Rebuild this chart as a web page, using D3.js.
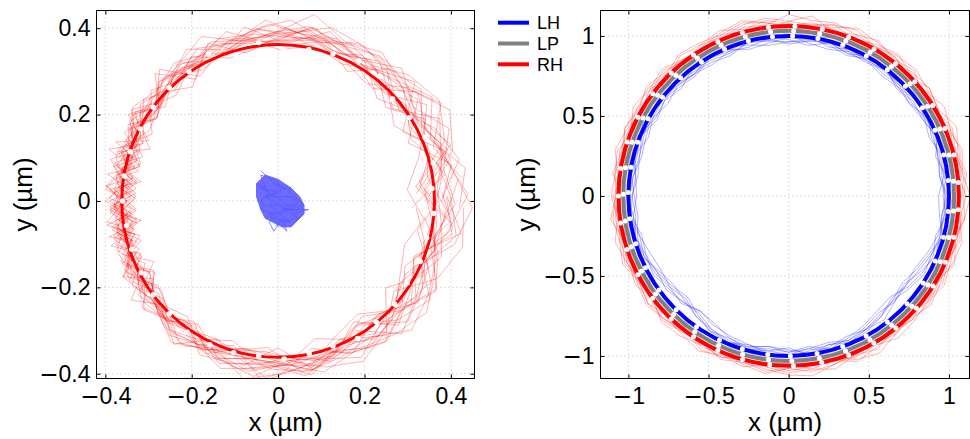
<!DOCTYPE html>
<html>
<head>
<meta charset="utf-8">
<script src="https://cdn.jsdelivr.net/npm/d3@7"></script>
<style>
  body { margin: 0; background: #fff; }
  svg text { font-family: "Liberation Sans", Arial, sans-serif; }
</style>
</head>
<body>
<svg id="vis" width="970" height="439"></svg>
<script>
// ---- left panel data (um) ----
var leftTicks = [-0.4, -0.2, 0, 0.2, 0.4];
var leftRadius = 0.362;
// white markers on the mean RH orbit
var leftDots = [[-0.045,0.367],[0.013,0.350],[0.071,0.351],[0.127,0.341],[0.187,0.324],[0.236,0.289],
  [0.265,0.236],[0.304,0.193],[0.340,0.147],[0.359,0.088],[0.356,0.029],[0.360,-0.029],[0.344,-0.085],
  [0.329,-0.140],[0.299,-0.190],[0.270,-0.239],[0.228,-0.281],[0.184,-0.318],[0.127,-0.336],[0.072,-0.353],
  [0.014,-0.366],[-0.045,-0.359],[-0.103,-0.351],[-0.158,-0.333],[-0.210,-0.304],[-0.252,-0.261],
  [-0.289,-0.217],[-0.317,-0.166],[-0.339,-0.112],[-0.351,-0.057],[-0.360,0.000],[-0.356,0.058],
  [-0.342,0.114],[-0.319,0.167],[-0.289,0.217],[-0.252,0.262],[-0.206,0.299],[-0.161,0.340],[-0.098,0.338]];
// RH trajectories: angle samples (deg) and radial offsets from 0.36 um (in 0.01 um)
var leftAngles = [0,12,24,36,48,60,72,84,96,108,120,130,140,148,155,161,166,170,174,178,
  182,186,190,194,199,205,212,220,230,240,252,264,276,288,300,312,324,336,348,360];
var leftShift = [0,3,-2,5,-4,1,4,-3,2,-5,6,-1,-6,2,7,-3,1,-7,5,-2];
var leftTraces = [
  [2,5,-3,4,1,3,0,2,4,1,-1,2,-2,3,-1,2,-3,1,0,-2,3,-1,2,-3,1,0,2,-1,3,1,-2,2,0,3,1,-1,4,2,-3,1],
  [-4,3,6,-2,4,5,2,4,1,3,2,-1,3,0,2,-2,1,-3,2,0,-1,3,-2,1,-2,3,0,2,-1,4,3,2,5,1,-2,3,6,-1,5,2],
  [6,8,2,7,3,1,4,3,6,2,4,1,0,-2,3,1,-1,2,-2,1,4,0,-3,2,0,-1,3,1,2,0,4,2,1,4,6,3,-2,5,8,7],
  [-6,-2,3,-3,2,-1,1,-1,2,4,1,3,-1,2,0,-3,2,1,-2,3,-1,2,0,-2,3,1,-2,0,1,3,-1,0,3,-2,-4,1,-3,-5,-2,-6],
  [1,-3,5,8,6,2,3,5,3,1,0,2,1,-1,-2,0,3,-1,1,-2,0,2,-1,3,-1,2,1,3,2,-1,2,4,2,0,3,5,2,4,-1,1],
  [4,2,-2,1,-1,2,5,1,0,-1,3,0,2,1,-1,2,0,-2,1,3,-2,1,2,-1,0,2,-1,1,4,2,0,-1,1,2,-2,0,3,1,6,4],
  [-2,6,9,4,5,4,2,0,2,0,1,-2,1,-3,1,-1,2,0,-3,-1,2,-2,1,-1,2,-3,0,1,-1,2,1,3,4,3,2,7,5,3,0,-2],
  [3,-1,1,-4,0,3,1,3,5,3,2,4,2,1,3,-1,1,2,-1,1,-3,0,1,-2,2,0,1,2,0,1,3,1,2,5,3,-1,1,-3,2,3],
  [8,4,2,5,-2,1,3,2,3,4,1,1,-1,0,-2,2,-1,1,2,-1,1,-2,3,0,1,-1,2,0,3,2,1,5,3,1,4,2,-2,1,4,8],
  [0,2,4,1,3,6,4,8,3,2,0,3,1,-1,1,3,-2,0,1,2,-1,1,-2,2,-1,1,3,-2,0,4,2,1,0,2,1,3,1,0,2,0],
  [-3,1,-1,3,2,0,2,1,0,1,3,0,-2,2,-1,0,1,-2,3,0,-2,2,0,1,-2,1,-1,2,0,-1,1,2,3,-1,2,0,-2,2,1,-3],
  [5,3,7,2,6,2,3,2,1,5,2,0,3,-1,2,-1,-3,1,-1,1,2,-2,0,-1,3,2,0,4,1,2,5,3,2,1,3,5,7,4,1,5],
  [3,-4,6,2,-1,4,1,5,2,-1,4,-2,5,-1,3,-3,4,-2,1,-4,3,0,-3,4,-2,2,-4,3,1,5,-1,3,-2,4,1,-3,2,6,3,-2],
  [-1,5,1,6,4,-2,3,6,4,2,-2,5,0,4,-2,5,-3,2,4,-1,2,-4,4,-2,3,-1,5,0,-2,3,0,-2,4,2,-3,4,1,-2,7,3],
  [7,2,8,3,5,3,5,1,2,6,3,2,4,2,-3,3,0,-3,2,1,-3,3,1,-2,4,-2,1,3,4,1,6,4,-1,3,5,2,6,1,3,6],
  [-5,3,0,5,-1,1,2,4,1,0,2,-3,1,3,0,-4,3,-1,2,4,0,-3,2,1,-3,3,-2,0,2,-2,3,1,2,-3,0,4,-4,2,-1,-4],
  [2,7,4,-1,3,5,6,3,4,1,5,2,-1,3,1,2,-2,4,-1,0,1,4,-2,3,-1,4,2,1,3,2,-1,6,3,2,-1,6,3,-2,5,3],
  [4,-2,5,1,4,-2,0,2,3,2,0,1,3,0,4,1,2,-1,3,-2,4,1,2,-3,1,0,3,-1,2,5,2,-1,1,4,2,-1,5,3,-1,4],
  [1,4,-3,6,2,4,3,1,5,0,2,3,-2,1,-2,4,1,-3,0,3,1,-1,4,0,2,-3,1,2,-2,3,4,2,5,0,3,2,0,4,2,1],
  [9,5,3,1,-3,2,1,4,2,3,1,2,0,2,1,-1,3,2,-3,2,-1,3,-1,1,3,0,-2,4,1,0,3,5,1,2,5,1,3,-1,6,9]
];
// LH cluster near the origin (0.01 um)
var blueCore = [[-5,4],[-3,6],[0,5],[3,3],[5,1],[6,-1],[6,-3],[5,-4],[3,-6],[1,-6],[-1,-5],[-3,-4],[-4,-2],[-5,1]];
var blueTrace = [[-4,7],[-1,4],[2,3],[-3,1],[4,1],[6,-1],[1,-2],[7,-2],[3,-3],[5,-4],[0,-5],[2,-7],[1,-4],
  [-1,-7],[-2,-5],[-1,-3],[-4,-2],[-3,-1],[-4,0],[-2,2],[-5,4],[-3,3],[-4,6],[-1,5],[1,3],[3,3],[2,1],
  [5,0],[4,-1],[-2,-1],[3,-5],[-1,-4],[2,-2],[-3,1],[0,2],[-4,3],[1,0],[4,-2],[-2,-3],[0,-6]];

// ---- right panel data (um) ----
var rightTicks = [-1, -0.5, 0, 0.5, 1];
var seriesNames = ["LH", "LP", "RH"];
var seriesColors = {LH: "#0000ff", LP: "#808080", RH: "#ff0000"};
var seriesRadius = {LH: 1.0, LP: 1.032, RH: 1.062};
var traceBase = {LH: 1.005, LP: 1.025, RH: 1.05};
var traceUnit = 0.014;
var rightAngles = d3.range(0, 360, 7.5);
var rhTraces = [
  [2,4,1,3,5,2,0,3,4,6,3,1,2,4,2,5,3,1,4,2,0,3,5,2,1,3,2,4,1,0,2,3,5,2,4,1,3,2,0,4,6,3,1,2,4,2,3,1],
  [4,1,3,6,2,4,3,1,2,3,5,4,6,2,3,1,0,2,3,5,2,4,1,3,4,2,0,1,3,5,3,2,1,4,2,3,5,6,3,2,1,3,2,5,3,1,4,2],
  [0,3,5,2,1,0,4,2,5,3,1,6,3,5,4,2,3,4,1,3,5,1,2,4,0,1,3,5,2,4,1,0,3,1,2,4,2,0,1,3,2,5,4,3,1,5,2,3],
  [6,3,2,4,1,3,5,4,2,0,2,3,1,3,6,4,2,0,2,4,3,2,3,1,2,4,3,2,4,1,5,4,2,3,1,2,0,3,5,2,4,1,3,4,2,0,1,4],
  [3,5,2,0,2,4,1,3,2,5,4,2,0,3,5,3,1,2,5,3,1,0,4,3,2,5,1,3,2,4,3,1,4,3,0,2,4,3,1,5,3,2,0,3,5,3,2,4],
  [1,2,4,3,0,1,2,5,3,1,4,2,3,0,1,3,4,5,2,1,3,4,2,0,3,2,5,3,1,2,4,2,0,1,3,5,2,4,3,1,0,2,3,1,2,4,5,2]
];
var lpTraces = [
  [1,-2,0,2,-1,1,3,0,-1,2,0,-2,1,3,1,-1,0,2,-1,1,2,0,-3,1,2,-1,0,1,3,0,-1,2,1,-2,0,1,2,-1,0,3,1,-1,2,0,-2,1,0,2],
  [-2,0,2,-1,1,3,1,-1,2,0,-1,1,2,0,-2,1,3,0,1,-1,2,1,0,-2,-1,1,2,0,-1,2,3,1,-2,0,1,-1,2,0,3,1,-1,0,2,-1,1,3,-1,0],
  [2,1,-1,0,3,0,-2,1,0,-1,2,3,0,1,-1,2,1,-2,0,2,-1,0,1,3,0,2,-1,-2,1,0,2,-1,0,1,3,2,0,-2,1,0,2,1,-1,2,0,-1,3,1],
  [0,3,1,-2,0,2,0,2,1,3,1,0,-1,2,0,-1,2,1,3,0,1,-2,2,0,1,-1,3,1,0,-2,0,2,1,3,-1,0,1,2,-1,2,0,3,0,1,2,0,1,-2],
  [3,0,-1,1,2,-1,1,3,2,0,1,-1,3,2,0,2,-1,1,2,3,0,-1,2,1,3,0,1,2,-1,1,0,3,2,0,-2,3,1,0,2,-1,3,2,1,-1,0,2,1,0],
  [-1,2,1,3,-1,0,2,-1,3,1,-2,0,2,-1,3,0,1,2,0,-2,3,2,-1,0,2,3,1,-1,2,1,-2,0,3,1,2,0,-1,3,1,-2,0,2,-1,3,2,0,-1,1]
];
var lhTraces = [
  [-3,-1,-4,0,-2,-3,-1,-2,0,-3,-1,-4,-2,0,-1,-3,-2,-1,-4,-2,-3,0,-2,-1,-3,-4,-2,-1,-5,-7,-6,-4,-3,-2,-1,-3,-2,-4,-1,-3,-5,-7,-8,-5,-3,-2,-4,-1],
  [-1,-4,-2,-3,0,-1,-3,-4,-2,-1,-3,0,-1,-3,-4,-1,0,-3,-2,0,-1,-3,-4,-2,-1,0,-3,-2,-4,-6,-8,-5,-2,-3,-1,-2,-4,0,-3,-2,-4,-6,-5,-7,-4,-1,-2,-3],
  [-5,-2,0,-1,-3,-2,-4,0,-1,-2,-4,-3,0,-2,-1,-4,-3,-2,0,-1,-2,-4,-1,-3,-2,-1,-4,-3,-2,-4,-5,-6,-3,-1,-2,-4,-3,-1,-2,-4,-3,-5,-6,-4,-2,-3,-1,-4],
  [-2,-3,-1,-4,-2,0,-2,-3,-1,-4,-2,-1,-3,-4,-2,0,-1,-4,-3,-1,0,-2,-3,-4,-2,-3,-1,-2,-3,-5,-4,-7,-5,-4,-3,-1,0,-2,-3,-1,-2,-4,-7,-6,-5,-3,-2,-2],
  [-2,-4,-3,-1,-3,-4,-2,-1,-3,-2,0,-2,-4,-1,-3,-2,-4,-3,-1,-2,-4,-1,-3,-2,0,-2,-3,-5,-6,-5,-7,-4,-2,-1,-3,-2,-1,-3,-4,-2,-3,-4,-6,-8,-6,-4,-1,-3],
  [0,-2,-3,-2,-1,-4,-3,-1,-2,-3,-1,-2,-3,-2,0,-2,-1,-3,-2,-4,-2,-1,0,-3,-4,-2,-1,-3,-4,-3,-5,-7,-6,-3,-2,-4,-2,-3,0,-1,-3,-2,-5,-6,-7,-5,-3,-2]
];
// marker angles (deg) on each mean orbit
var rhDotAngles = [87.9,78.6,69.4,59.9,51.1,42.2,32.2,23.4,13.9,4.5,-4.7,-14.1,-23,-32,-41.4,-51,-60,-69.4,-78.8,
  -88.4,-96.4,-105.7,-114.6,-124,-133.6,-143,-152.4,-161.6,-170.8,180,170.7,161.5,152.4,143,133.6,124,114.6,105.8,96.8];
var lpDotAngles = [88.3,79.2,69.8,60.5,51.6,42.8,32.9,23.9,14.4,5.1,-5.2,-14.6,-23.5,-32.6,-41.9,-51.5,-60.6,-69.9,-79.3,
  -88.9,-97,-106.2,-115.1,-124.6,-134.1,-143.6,-152.9,-162.1,-171.3,179.4,170.2,161,151.8,142.4,133,123.5,114.1,105.2,96.3];
var lhDotAngles = [88.6,79.5,70.3,61,52,43.3,33.4,24.2,14.8,5.5,-5.6,-15,-24,-33,-42.4,-52,-61.1,-70.3,-79.8,
  -89.4,-97.5,-106.8,-115.6,-125.1,-134.6,-144,-153.3,-162.6,-171.8,178.8,169.7,160.4,151.2,141.9,132.4,123,113.6,104.6,95.8];

var svg = d3.select("#vis");
var tickFont = "23px";
var labelFont = "26px";

function polar(r, deg) {
  var a = deg * Math.PI / 180;
  return [r * Math.cos(a), r * Math.sin(a)];
}

// put the minus sign in its own tspan so it renders as a long dash
function styleTickText(sel, fmt) {
  sel.selectAll("text").each(function(d) {
    var t = d3.select(this).style("font-size", tickFont).attr("fill", "#000");
    if (d < 0) {
      t.text(null);
      t.append("tspan").style("font-family", "'DejaVu Sans'").text("\u2212");
      t.append("tspan").text(fmt(-d));
    }
  });
}

function makePanel(id, xDomain, xRange, yDomain, yRange, ticks, labelX) {
  var xScale = d3.scaleLinear().domain(xDomain).range(xRange);
  var yScale = d3.scaleLinear().domain(yDomain).range(yRange);
  var g = svg.append("g").attr("class", "panel-" + id);
  var fmt = d3.format("~g");

  // dotted grid
  g.selectAll("line.gx").data(ticks).enter().append("line")
    .attr("x1", d => xScale(d)).attr("x2", d => xScale(d))
    .attr("y1", yRange[0]).attr("y2", yRange[1])
    .attr("stroke", "#bdbdbd").attr("stroke-width", 1).attr("stroke-dasharray", "1,3");
  g.selectAll("line.gy").data(ticks).enter().append("line")
    .attr("y1", d => yScale(d)).attr("y2", d => yScale(d))
    .attr("x1", xRange[0]).attr("x2", xRange[1])
    .attr("stroke", "#bdbdbd").attr("stroke-width", 1).attr("stroke-dasharray", "1,3");

  svg.append("clipPath").attr("id", "clip-" + id).append("rect")
    .attr("x", xRange[0]).attr("y", yRange[1])
    .attr("width", xRange[1] - xRange[0]).attr("height", yRange[0] - yRange[1]);
  var plot = g.append("g").attr("clip-path", "url(#clip-" + id + ")");

  // axes: labels outside, ticks inside on all four sides
  var bottom = g.append("g").attr("transform", "translate(0," + yRange[0] + ")")
    .call(d3.axisBottom(xScale).tickValues(ticks).tickSize(0).tickPadding(9).tickFormat(fmt));
  var left = g.append("g").attr("transform", "translate(" + xRange[0] + ",0)")
    .call(d3.axisLeft(yScale).tickValues(ticks).tickSize(0).tickPadding(6).tickFormat(fmt));
  styleTickText(bottom, fmt);
  styleTickText(left, fmt);
  g.append("g").attr("transform", "translate(0," + yRange[0] + ")")
    .call(d3.axisTop(xScale).tickValues(ticks).tickSize(4).tickFormat(""));
  g.append("g").attr("transform", "translate(0," + yRange[1] + ")")
    .call(d3.axisBottom(xScale).tickValues(ticks).tickSize(4).tickFormat(""));
  g.append("g").attr("transform", "translate(" + xRange[0] + ",0)")
    .call(d3.axisRight(yScale).tickValues(ticks).tickSize(4).tickFormat(""));
  g.append("g").attr("transform", "translate(" + xRange[1] + ",0)")
    .call(d3.axisLeft(yScale).tickValues(ticks).tickSize(4).tickFormat(""));
  g.selectAll(".domain").remove();

  var frame = g.append("rect")
    .attr("x", xRange[0]).attr("y", yRange[1])
    .attr("width", xRange[1] - xRange[0]).attr("height", yRange[0] - yRange[1])
    .attr("fill", "none").attr("stroke", "#000").attr("stroke-width", 1);

  // axis titles
  var cx = (xRange[0] + xRange[1]) / 2;
  var cy = (yRange[0] + yRange[1]) / 2;
  g.append("text").attr("x", cx).attr("y", 431).attr("text-anchor", "middle")
    .style("font-size", labelFont).text("x (\u00b5m)");
  g.append("text").attr("transform", "translate(" + labelX + "," + cy + ") rotate(-90)")
    .attr("text-anchor", "middle").style("font-size", labelFont).text("y (\u00b5m)");

  return {x: xScale, y: yScale, plot: plot, g: g};
}

// ---------- left panel ----------
var L = makePanel("left", [-0.4204, 0.4546], [96.5, 474.5], [-0.411, 0.441], [378.5, 10.5], leftTicks, 32);
var lineL = d3.line().x(d => L.x(d[0])).y(d => L.y(d[1]));

L.plot.selectAll("path.rhtrace").data(leftTraces).enter().append("path")
  .attr("class", "rhtrace")
  .attr("d", (t, k) => lineL(t.map((o, i) => polar(0.36 + o / 100, leftAngles[i] + leftShift[k]))))
  .attr("fill", "none").attr("stroke", "#ff0000").attr("stroke-opacity", 0.3).attr("stroke-width", 1);

L.plot.append("path")
  .attr("d", lineL(blueCore.map(p => [p[0] / 100, p[1] / 100])) + "Z")
  .attr("fill", "#6b6bff").attr("stroke", "#6b6bff").attr("stroke-width", 1);
L.plot.append("path")
  .attr("d", lineL(blueTrace.map(p => [p[0] / 100, p[1] / 100])))
  .attr("fill", "none").attr("stroke", "#5a5aff").attr("stroke-opacity", 0.75).attr("stroke-width", 1);

L.plot.append("ellipse")
  .attr("cx", L.x(0)).attr("cy", L.y(0))
  .attr("rx", L.x(leftRadius) - L.x(0)).attr("ry", L.y(0) - L.y(leftRadius))
  .attr("fill", "none").attr("stroke", "#ff0000").attr("stroke-width", 3);

L.plot.selectAll("circle.dot").data(leftDots).enter().append("circle")
  .attr("class", "dot")
  .attr("cx", d => L.x(d[0])).attr("cy", d => L.y(d[1])).attr("r", 2.7)
  .attr("fill", "#fff");

// ---------- right panel ----------
var R = makePanel("right", [-1.174, 1.128], [600.5, 969.5], [-1.141, 1.159], [378.5, 10.5], rightTicks, 535);
var lineR = d3.line().x(d => R.x(d[0])).y(d => R.y(d[1]));
var traceSets = [
  {name: "LP", traces: lpTraces},
  {name: "LH", traces: lhTraces},
  {name: "RH", traces: rhTraces}
];
traceSets.forEach(s => {
  R.plot.selectAll("path.tr" + s.name).data(s.traces).enter().append("path")
    .attr("class", "tr" + s.name)
    .attr("d", t => {
      var pts = t.map((o, i) => polar(traceBase[s.name] + o * traceUnit, rightAngles[i]));
      pts.push(pts[0]);
      return lineR(pts);
    })
    .attr("fill", "none").attr("stroke", seriesColors[s.name])
    .attr("stroke-opacity", 0.3).attr("stroke-width", 1);
});

["RH", "LP", "LH"].forEach(name => {
  R.plot.append("ellipse")
    .attr("cx", R.x(0)).attr("cy", R.y(0))
    .attr("rx", R.x(seriesRadius[name]) - R.x(0)).attr("ry", R.y(0) - R.y(seriesRadius[name]))
    .attr("fill", "none").attr("stroke", seriesColors[name]).attr("stroke-width", 4);
});

var dotSets = [
  {name: "RH", angles: rhDotAngles},
  {name: "LP", angles: lpDotAngles},
  {name: "LH", angles: lhDotAngles}
];
dotSets.forEach(s => {
  R.plot.selectAll("circle.d" + s.name).data(s.angles).enter().append("circle")
    .attr("class", "d" + s.name)
    .attr("cx", a => R.x(polar(seriesRadius[s.name], a)[0]))
    .attr("cy", a => R.y(polar(seriesRadius[s.name], a)[1]))
    .attr("r", 2.5).attr("fill", "#fff");
});

// ---------- legend ----------
var legend = svg.append("g").attr("class", "legend");
var legY = d3.scalePoint().domain(seriesNames).range([22.7, 64.3]);
legend.selectAll("line").data(seriesNames).enter().append("line")
  .attr("x1", 498).attr("x2", 529)
  .attr("y1", d => legY(d)).attr("y2", d => legY(d))
  .attr("stroke", d => seriesColors[d]).attr("stroke-width", 4);
legend.selectAll("text").data(seriesNames).enter().append("text")
  .attr("x", 537).attr("y", d => legY(d) + 6.5)
  .style("font-size", "18px").text(d => d);
</script>
</body>
</html>
